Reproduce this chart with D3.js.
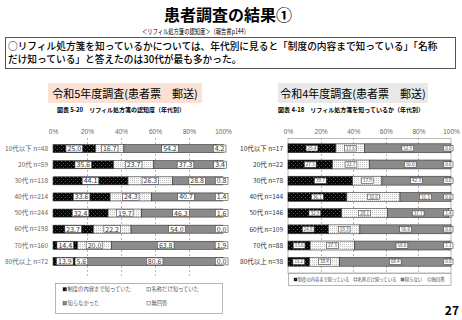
<!DOCTYPE html>
<html>
<head>
  <meta charset="utf-8">
  <style>
    body { margin: 0; background: #fff; }
    svg { display: block; font-family: "Noto Sans CJK JP", "Noto Sans", sans-serif; }
  </style>
</head>
<body>
  <div id="chart"></div>
  <script src="https://d3js.org/d3.v7.min.js"></script>
  <script>

    // ---- data: 令和5年度 (left panel) ----
    var seriesR5 = ["制度の内容まで知っていた", "名称だけ知っていた", "知らなかった", "無回答"]
    var groupsR5 = ["10代以下 n=48", "20代 n=59", "30代 n=118", "40代 n=214", "50代 n=244", "60代 n=198", "70代 n=160", "80代以上 n=72"]
    var knewR5 = [25.0, 35.6, 44.1, 33.6, 32.4, 23.7, 14.4, 13.9]
    var nameR5 = [16.7, 23.7, 26.3, 24.3, 19.7, 22.2, 20.0, 5.6]
    var notR5 = [54.2, 37.3, 28.8, 40.7, 46.3, 54.0, 63.8, 80.6]
    var naR5 = [4.2, 3.4, 0.8, 1.4, 1.6, 0.0, 1.9, 0.0]

    // ---- data: 令和4年度 (right panel) ----
    var seriesR4 = ["制度の内容まで知っている", "名称だけ知っている", "知らない", "無回答"]
    var groupsR4 = ["10代以下  n=17", "20代  n=22", "30代  n=78", "40代  n=144", "50代  n=146", "60代  n=109", "70代  n=88", "80代以上  n=38"]
    var knewR4 = [29.4, 27.3, 39.7, 36.1, 32.9, 24.8, 13.6, 13.2]
    var nameR4 = [17.6, 22.7, 17.9, 32.6, 28.1, 19.3, 27.3, 18.4]
    var notR4 = [52.9, 50.0, 42.3, 31.3, 37.7, 56.0, 58.0, 68.4]
    var naR4 = [0.0, 0.0, 0.0, 0.0, 1.4, 0.0, 1.1, 0.0]

    var ticks = [0, 20, 40, 60, 80, 100]

    var width = 462, height = 320

    var svg = d3.select("#chart").append("svg")
        .attr("width", width)
        .attr("height", height)

    // patterns for the dotted series
    var defs = svg.append("defs")
    var pDark = defs.append("pattern").attr("id", "dotDark")
        .attr("width", 4).attr("height", 4).attr("patternUnits", "userSpaceOnUse")
    pDark.append("rect").attr("width", 4).attr("height", 4).attr("fill", "#050505")
    pDark.append("rect").attr("x", 1).attr("y", 1).attr("width", 1).attr("height", 1).attr("fill", "#6a6a6a")
    pDark.append("rect").attr("x", 3).attr("y", 3).attr("width", 1).attr("height", 1).attr("fill", "#4a4a4a")

    var pLight = defs.append("pattern").attr("id", "dotLight")
        .attr("width", 2).attr("height", 2).attr("patternUnits", "userSpaceOnUse")
    pLight.append("rect").attr("width", 2).attr("height", 2).attr("fill", "#f9f9f9")
    pLight.append("rect").attr("width", 1).attr("height", 1).attr("fill", "#c4c4c4")

    var fills = ["url(#dotDark)", "url(#dotLight)", "#8b8b8b", "#ffffff"]

    // ---- header ----
    svg.append("text")
        .attr("x", 228).attr("y", 20.5)
        .attr("text-anchor", "middle")
        .style("font-size", "16px").style("font-weight", "bold")
        .text("患者調査の結果①")

    svg.append("text")
        .attr("x", 142).attr("y", 34)
        .attr("textLength", 107).attr("lengthAdjust", "spacingAndGlyphs")
        .style("font-size", "7.2px")
        .text("＜リフィル処方箋の認知度＞（報告書p144）")

    svg.append("rect")
        .attr("x", 5.5).attr("y", 37.5)
        .attr("width", 450).attr("height", 31)
        .attr("fill", "none").attr("stroke", "#555")

    svg.append("text")
        .attr("x", 8).attr("y", 49.5)
        .style("font-size", "9.7px").style("font-weight", 500)
        .text("○リフィル処方箋を知っているかについては、年代別に見ると「制度の内容まで知っている」「名称")
    svg.append("text")
        .attr("x", 8).attr("y", 62.5)
        .style("font-size", "9.7px").style("font-weight", 500)
        .text("だけ知っている」と答えたのは30代が最も多かった。")

    // panel headers
    svg.append("rect").attr("x", 48).attr("y", 83).attr("width", 154).attr("height", 20).attr("fill", "#fbe1d4")
    svg.append("text").attr("x", 125).attr("y", 97.5).attr("text-anchor", "middle")
        .style("font-size", "11px").text("令和5年度調査(患者票　郵送)")
    svg.append("rect").attr("x", 278).attr("y", 83).attr("width", 150).attr("height", 20).attr("fill", "#e9e9e9")
    svg.append("text").attr("x", 353).attr("y", 97.5).attr("text-anchor", "middle")
        .style("font-size", "11px").text("令和4年度調査(患者票　郵送)")

    svg.append("text").attr("x", 121).attr("y", 112).attr("text-anchor", "middle")
        .style("font-size", "6px").style("font-weight", "bold")
        .text("図表 5-20　リフィル処方箋の認知度（年代別）")
    svg.append("text").attr("x", 351).attr("y", 112).attr("text-anchor", "middle")
        .style("font-size", "6px").style("font-weight", "bold")
        .text("図表 4-18　リフィル処方箋を知っているか（年代別）")

    svg.append("text").attr("x", 459).attr("y", 315).attr("text-anchor", "end")
        .style("font-size", "12px").style("font-weight", "bold")
        .text("27")

    // ---- one stacked 100% bar panel ----
    var draw_panel = function (cfg) {
      var keys = ["a", "b", "c", "d"]
      var table = cfg.groups.map(function (g, i) {
        return {group: g, a: cfg.values[0][i], b: cfg.values[1][i], c: cfg.values[2][i], d: cfg.values[3][i]}
      })
      var stacked = d3.stack().keys(keys)(table)

      var x = d3.scaleLinear().domain([0, 100]).range([cfg.x0, cfg.x1])
      var y = d3.scaleBand().domain(cfg.groups).range([136.5, 273.5]).padding(cfg.pad)

      var g = svg.append("g")

      if (cfg.frame) {
        g.append("rect")
            .attr("x", x(0)).attr("y", 138.5)
            .attr("width", x(100) - x(0)).attr("height", 134.5)
            .attr("fill", "none").attr("stroke", "#aaa").attr("stroke-width", 0.8)
      }

      // dashed vertical grid
      g.append("g")
          .selectAll("line")
          .data(ticks.filter(function (t) { return t > 0 && t < 100 }))
          .enter().append("line")
          .attr("x1", function (d) { return Math.round(x(d)) + 0.5 })
          .attr("x2", function (d) { return Math.round(x(d)) + 0.5 })
          .attr("y1", 138).attr("y2", cfg.gridBottom)
          .attr("stroke", "#9a9a9a").attr("stroke-width", 0.7)
          .attr("stroke-dasharray", "2,2")

      // top tick labels
      var xAxis = d3.axisTop(x).tickValues(ticks).tickSize(0).tickPadding(0)
          .tickFormat(function (d) { return d + "%" })
      var ax = g.append("g")
          .attr("transform", "translate(0,134)")
          .call(xAxis)
      ax.select(".domain").remove()
      ax.selectAll("text")
          .attr("dy", 0)
          .style("font-family", "inherit")
          .style("font-size", "6.5px")
          .attr("fill", "#666")

      // row labels
      g.append("g")
          .selectAll("text")
          .data(cfg.groups)
          .enter().append("text")
          .attr("x", cfg.labelX)
          .attr("y", function (d) { return y(d) + y.bandwidth() / 2 + 2.3 })
          .attr("text-anchor", "end")
          .style("font-size", "6.5px")
          .attr("fill", cfg.labelColor)
          .text(function (d) { return d })

      // bars
      stacked.forEach(function (layer, si) {
        g.append("g")
            .selectAll("rect")
            .data(layer)
            .enter().append("rect")
            .attr("x", function (d) { return x(d[0]) })
            .attr("y", function (d) { return y(d.data.group) })
            .attr("width", function (d) { return x(d[1]) - x(d[0]) })
            .attr("height", y.bandwidth())
            .attr("fill", fills[si])
            .attr("stroke", "#333")
            .attr("stroke-width", 0.6)
      })

      // value boxes
      stacked.forEach(function (layer) {
        layer.forEach(function (d) {
          var cx = x((d[0] + d[1]) / 2)
          var cy = y(d.data.group) + y.bandwidth() / 2
          var lg = g.append("g")
          var t = lg.append("text")
              .attr("text-anchor", "middle")
              .attr("y", cy + cfg.font * 0.36)
              .style("font-size", cfg.font + "px")
              .attr("fill", "#333")
              .text((d[1] - d[0]).toFixed(1))
          var w = t.node().getComputedTextLength() + cfg.boxPad * 2
          var maxRight = x(100) + cfg.overhang
          if (cx + w / 2 > maxRight) cx = maxRight - w / 2
          t.attr("x", cx)
          lg.insert("rect", "text")
              .attr("x", cx - w / 2).attr("y", cy - cfg.boxH / 2)
              .attr("width", w).attr("height", cfg.boxH)
              .attr("fill", "#fff").attr("stroke", "#444").attr("stroke-width", 0.6)
        })
      })
    }

    draw_panel({
      groups: groupsR5, values: [knewR5, nameR5, notR5, naR5],
      x0: 53, x1: 223, pad: 0.5, labelX: 48, labelColor: "#666",
      font: 7, boxH: 7, boxPad: 1.5, overhang: 5, gridBottom: 276, frame: false
    })

    draw_panel({
      groups: groupsR4, values: [knewR4, nameR4, notR4, naR4],
      x0: 288, x1: 451, pad: 0.45, labelX: 283, labelColor: "#333",
      font: 4.5, boxH: 5.5, boxPad: 1.5, overhang: 2, gridBottom: 273, frame: true
    })

    // ---- legends ----
    var legendLeft = svg.append("g")
    legendLeft.append("rect")
        .attr("x", 55.5).attr("y", 283.5).attr("width", 167).attr("height", 30)
        .attr("fill", "#fff").attr("stroke", "#999").attr("stroke-width", 0.7)
    var posLeft = [[63, 291], [147, 291], [63, 305], [147, 305]]
    seriesR5.forEach(function (s, i) {
      legendLeft.append("rect")
          .attr("x", posLeft[i][0]).attr("y", posLeft[i][1] - 3.5)
          .attr("width", 3.5).attr("height", 3.5)
          .attr("fill", fills[i]).attr("stroke", "#333").attr("stroke-width", 0.4)
      legendLeft.append("text")
          .attr("x", posLeft[i][0] + 4.5).attr("y", posLeft[i][1])
          .style("font-size", "5.3px").attr("fill", "#555")
          .text(s)
    })

    var legendRight = svg.append("g")
    legendRight.append("rect")
        .attr("x", 288.5).attr("y", 273.5).attr("width", 162.5).attr("height", 12)
        .attr("fill", "#fff").attr("stroke", "#999").attr("stroke-width", 0.7)
    var posRight = [294, 354, 401, 428]
    seriesR4.forEach(function (s, i) {
      legendRight.append("rect")
          .attr("x", posRight[i]).attr("y", 278)
          .attr("width", 3).attr("height", 3)
          .attr("fill", fills[i]).attr("stroke", "#333").attr("stroke-width", 0.4)
      legendRight.append("text")
          .attr("x", posRight[i] + 3.8).attr("y", 281)
          .style("font-size", "4.3px").attr("fill", "#444")
          .text(s)
    })

  </script>
</body>
</html>
